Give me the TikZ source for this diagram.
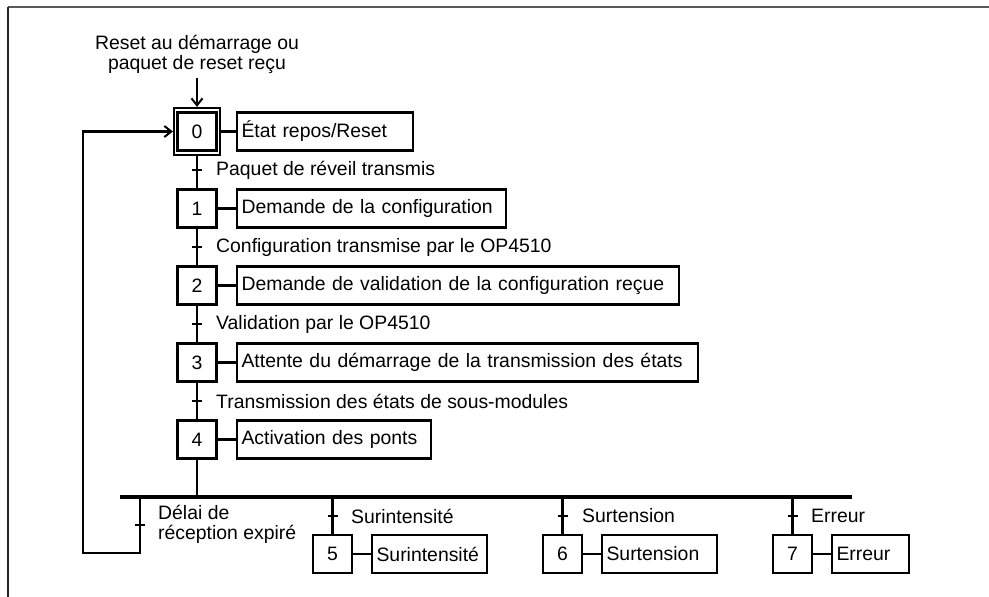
\documentclass[tikz,border=0pt]{standalone}
\usepackage{fontspec}
\setmainfont{Liberation Sans}
\usetikzlibrary{arrows.meta,calc}
\newcommand{\gfont}{\fontsize{19.4pt}{20pt}\selectfont}
\begin{document}
\begin{tikzpicture}[x=1pt,y=-1pt,
  stepbox/.style={draw, line width=2.1pt, minimum width=39pt, minimum height=38pt, inner sep=0pt, font=\gfont},
  actbox/.style={draw, line width=2.1pt, minimum height=38pt, anchor=west, inner xsep=4.5pt, inner ysep=0pt, font=\gfont, align=left, text width=#1},
  lbl/.style={anchor=west, inner sep=0pt, font=\gfont},
  wire/.style={line width=2.1pt},
  tick/.style={line width=2.1pt},
  arr/.style={line width=2.1pt, -{Straight Barb[length=7pt,width=11pt,line width=2pt]}}
]
\useasboundingbox (0,0) rectangle (989,597);
\draw[line width=1.5pt, gray!70!black] (8,7) -- (989,7);
\draw[line width=1.5pt, black!85] (8,7) -- (8,597);

% initial text and step 0
\node[lbl, anchor=center, align=center] (init) at (197,54) {Reset au démarrage ou\\paquet de reset reçu};
\node[stepbox] (s0) at (197,131.5) {0};
\node[draw, line width=2.1pt, minimum width=46pt, minimum height=47pt, inner sep=0pt] (s0o) at (197,131.5) {};
\node[actbox=167pt] (a0) at (236,131.5) {État repos/Reset};
\draw[arr] (197,78) -- (s0o.north);
\draw[wire] (s0o.east) -- (a0.west);

% steps 1-4
\node[stepbox] (s1) at (197,208.5) {1};
\node[actbox=260pt] (a1) at (236,208.5) {Demande de la configuration};
\node[stepbox] (s2) at (197,285.5) {2};
\node[actbox=433pt] (a2) at (236,285.5) {Demande de validation de la configuration reçue};
\node[stepbox] (s3) at (197,362.5) {3};
\node[actbox=452pt] (a3) at (236,362.5) {Attente du démarrage de la transmission des états};
\node[stepbox] (s4) at (197,439.5) {4};
\node[actbox=185pt] (a4) at (236,439.5) {Activation des ponts};
\foreach \i in {1,...,4} {\draw[wire] (s\i.east) -- (a\i.west);}

% links and transitions
\draw[wire] (s0o.south) -- (s1.north);
\draw[wire] (s1.south) -- (s2.north);
\draw[wire] (s2.south) -- (s3.north);
\draw[wire] (s3.south) -- (s4.north);
\foreach \y in {170,247,324,401} {\draw[tick] (192,\y) -- (202,\y);}
\node[lbl] (t0) at (216,170) {Paquet de réveil transmis};
\node[lbl] (t1) at (216,247) {Configuration transmise par le OP4510};
\node[lbl] (t2) at (216,324) {Validation par le OP4510};
\node[lbl] (t3) at (216,401) {Transmission des états de sous-modules};

% divergence bar
\coordinate (barL) at (120,497);
\coordinate (barR) at (852,497);
\draw[line width=4.5pt] (barL) -- (barR);
\draw[wire] (s4.south) -- (s4.south |- barL);

% loop back
\coordinate (lb1) at (140,497);
\coordinate (lb2) at (140,553);
\coordinate (lb3) at (83,553);
\coordinate (lb4) at (83,131.5);
\draw[arr] (lb1) -- (lb2) -- (lb3) -- (lb4) -- (s0o.west);
\draw[tick] (135,525) -- (145,525);
\node[lbl, align=left] (td) at (158,524.5) {Délai de\\réception expiré};

% branches
\node[stepbox] (s5) at (332.5,554) {5};
\node[actbox=106pt] (a5) at (371,554) {Surintensité};
\node[stepbox] (s6) at (562.5,554) {6};
\node[actbox=106pt] (a6) at (601,554) {Surtension};
\node[stepbox] (s7) at (792.5,554) {7};
\node[actbox=68pt] (a7) at (831,554) {Erreur};
\foreach \i in {5,6,7} {
  \draw[wire] (s\i.east) -- (a\i.west);
  \draw[wire] (s\i.north |- barL) -- (s\i.north);
}
\foreach \x in {332.5,562.5,792.5} {\draw[tick] (\x-5,516) -- (\x+5,516);}
\node[lbl] (t5) at (351,516) {Surintensité};
\node[lbl] (t6) at (582,516) {Surtension};
\node[lbl] (t7) at (811,516) {Erreur};
\end{tikzpicture}
\end{document}
